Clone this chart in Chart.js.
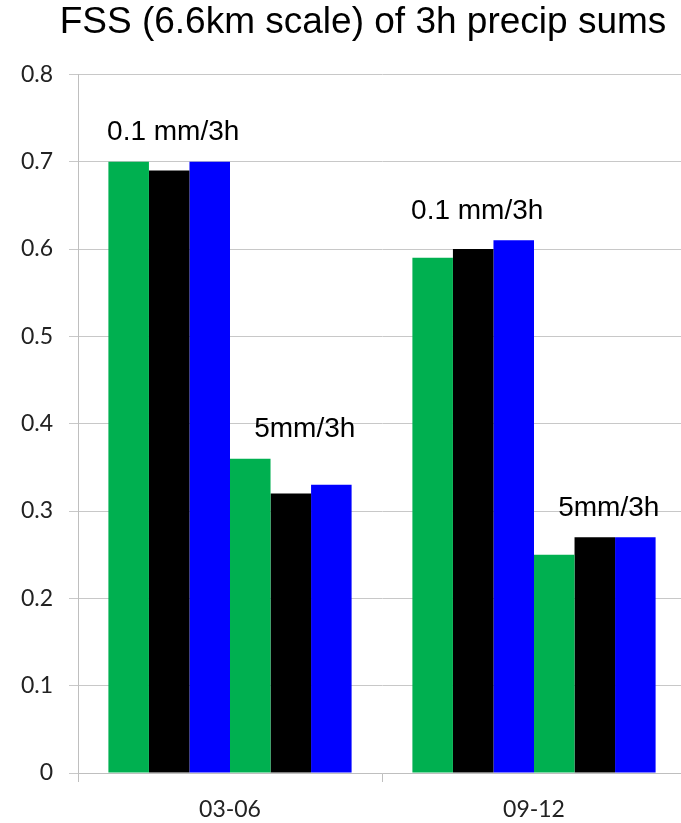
<!DOCTYPE html>
<html>
<head>
<meta charset="utf-8">
<script src="https://cdn.jsdelivr.net/npm/chart.js@4/dist/chart.umd.min.js"></script>
<style>
  html, body { margin: 0; padding: 0; background: #fff; overflow: hidden; }
  #wrap { width: 686px; height: 823px; }
</style>
</head>
<body>
<div id="wrap"><canvas id="fssChart"></canvas></div>
<script>
// categories (forecast hours) and the six bars in each
const periods = ['03-06', '09-12'];
const green01 = [0.70, 0.59];
const black01 = [0.69, 0.60];
const blue01  = [0.70, 0.61];
const green5  = [0.36, 0.25];
const black5  = [0.32, 0.27];
const blue5   = [0.33, 0.27];
const thresholdLabels = ['0.1 mm/3h', '5mm/3h'];
const yTicks = [0, 0.1, 0.2, 0.3, 0.4, 0.5, 0.6, 0.7, 0.8];

const GREEN = '#00b050', BLACK = '#000000', BLUE = '#0000ff';

// threshold text above each triple of bars, title nudged right like the original
const thresholdText = {
  id: 'thresholdText',
  afterLayout(chart) {
    if (chart.titleBlock) chart.titleBlock.left = 40;
  },
  afterDatasetsDraw(chart) {
    const ctx = chart.ctx;
    const y = chart.scales.y;
    ctx.save();
    ctx.fillStyle = '#000';
    ctx.font = '28px "Liberation Sans", Arial, sans-serif';
    ctx.textAlign = 'center';
    ctx.textBaseline = 'middle';
    periods.forEach((p, i) => {
      const bar01 = chart.getDatasetMeta(1).data[i];
      const bar5 = chart.getDatasetMeta(4).data[i];
      const top01 = Math.max(green01[i], black01[i], blue01[i]);
      const top5 = Math.max(green5[i], black5[i], blue5[i]);
      ctx.fillText(thresholdLabels[0], bar01.x + 4, y.getPixelForValue(top01) - 29);
      ctx.fillText(thresholdLabels[1], bar5.x + 14, y.getPixelForValue(top5) - 29);
    });
    ctx.restore();
  }
};

const mk = (data, color) => ({
  data: data,
  backgroundColor: color,
  borderWidth: 0,
  categoryPercentage: 0.8,
  barPercentage: 1.0
});

new Chart(document.getElementById('fssChart'), {
  type: 'bar',
  data: {
    labels: periods,
    datasets: [
      mk(green01, GREEN), mk(black01, BLACK), mk(blue01, BLUE),
      mk(green5, GREEN), mk(black5, BLACK), mk(blue5, BLUE)
    ]
  },
  options: {
    responsive: true,
    maintainAspectRatio: false,
    animation: false,
    layout: { padding: 0 },
    plugins: {
      legend: { display: false },
      tooltip: { enabled: false },
      title: {
        display: true,
        text: 'FSS (6.6km scale) of 3h precip sums',
        color: '#000',
        font: { family: '"Liberation Sans", Arial, sans-serif', size: 37, weight: 'normal', lineHeight: 1.2 },
        padding: { top: 1, bottom: 29 }
      }
    },
    scales: {
      x: {
        offset: true,
        grid: { display: true, offset: true, drawOnChartArea: false, color: '#bfbfbf', tickLength: 9 },
        border: { color: '#bfbfbf', width: 1 },
        ticks: { color: '#222', padding: 14, font: { family: 'Lato, "Open Sans", sans-serif', size: 23 } },
        afterFit(s) { s.height = 50; }
      },
      y: {
        min: 0,
        max: 0.8,
        afterBuildTicks(s) { s.ticks = yTicks.map(v => ({ value: v })); },
        grid: { color: '#c8c8c8', tickLength: 9 },
        border: { color: '#bfbfbf', width: 1 },
        ticks: {
          color: '#222',
          padding: 16,
          font: { family: 'Lato, "Open Sans", sans-serif', size: 23 },
          callback: v => v === 0 ? '0' : v.toFixed(1)
        },
        afterFit(s) { s.width = 78; }
      }
    }
  },
  plugins: [thresholdText]
});
</script>
</body>
</html>
